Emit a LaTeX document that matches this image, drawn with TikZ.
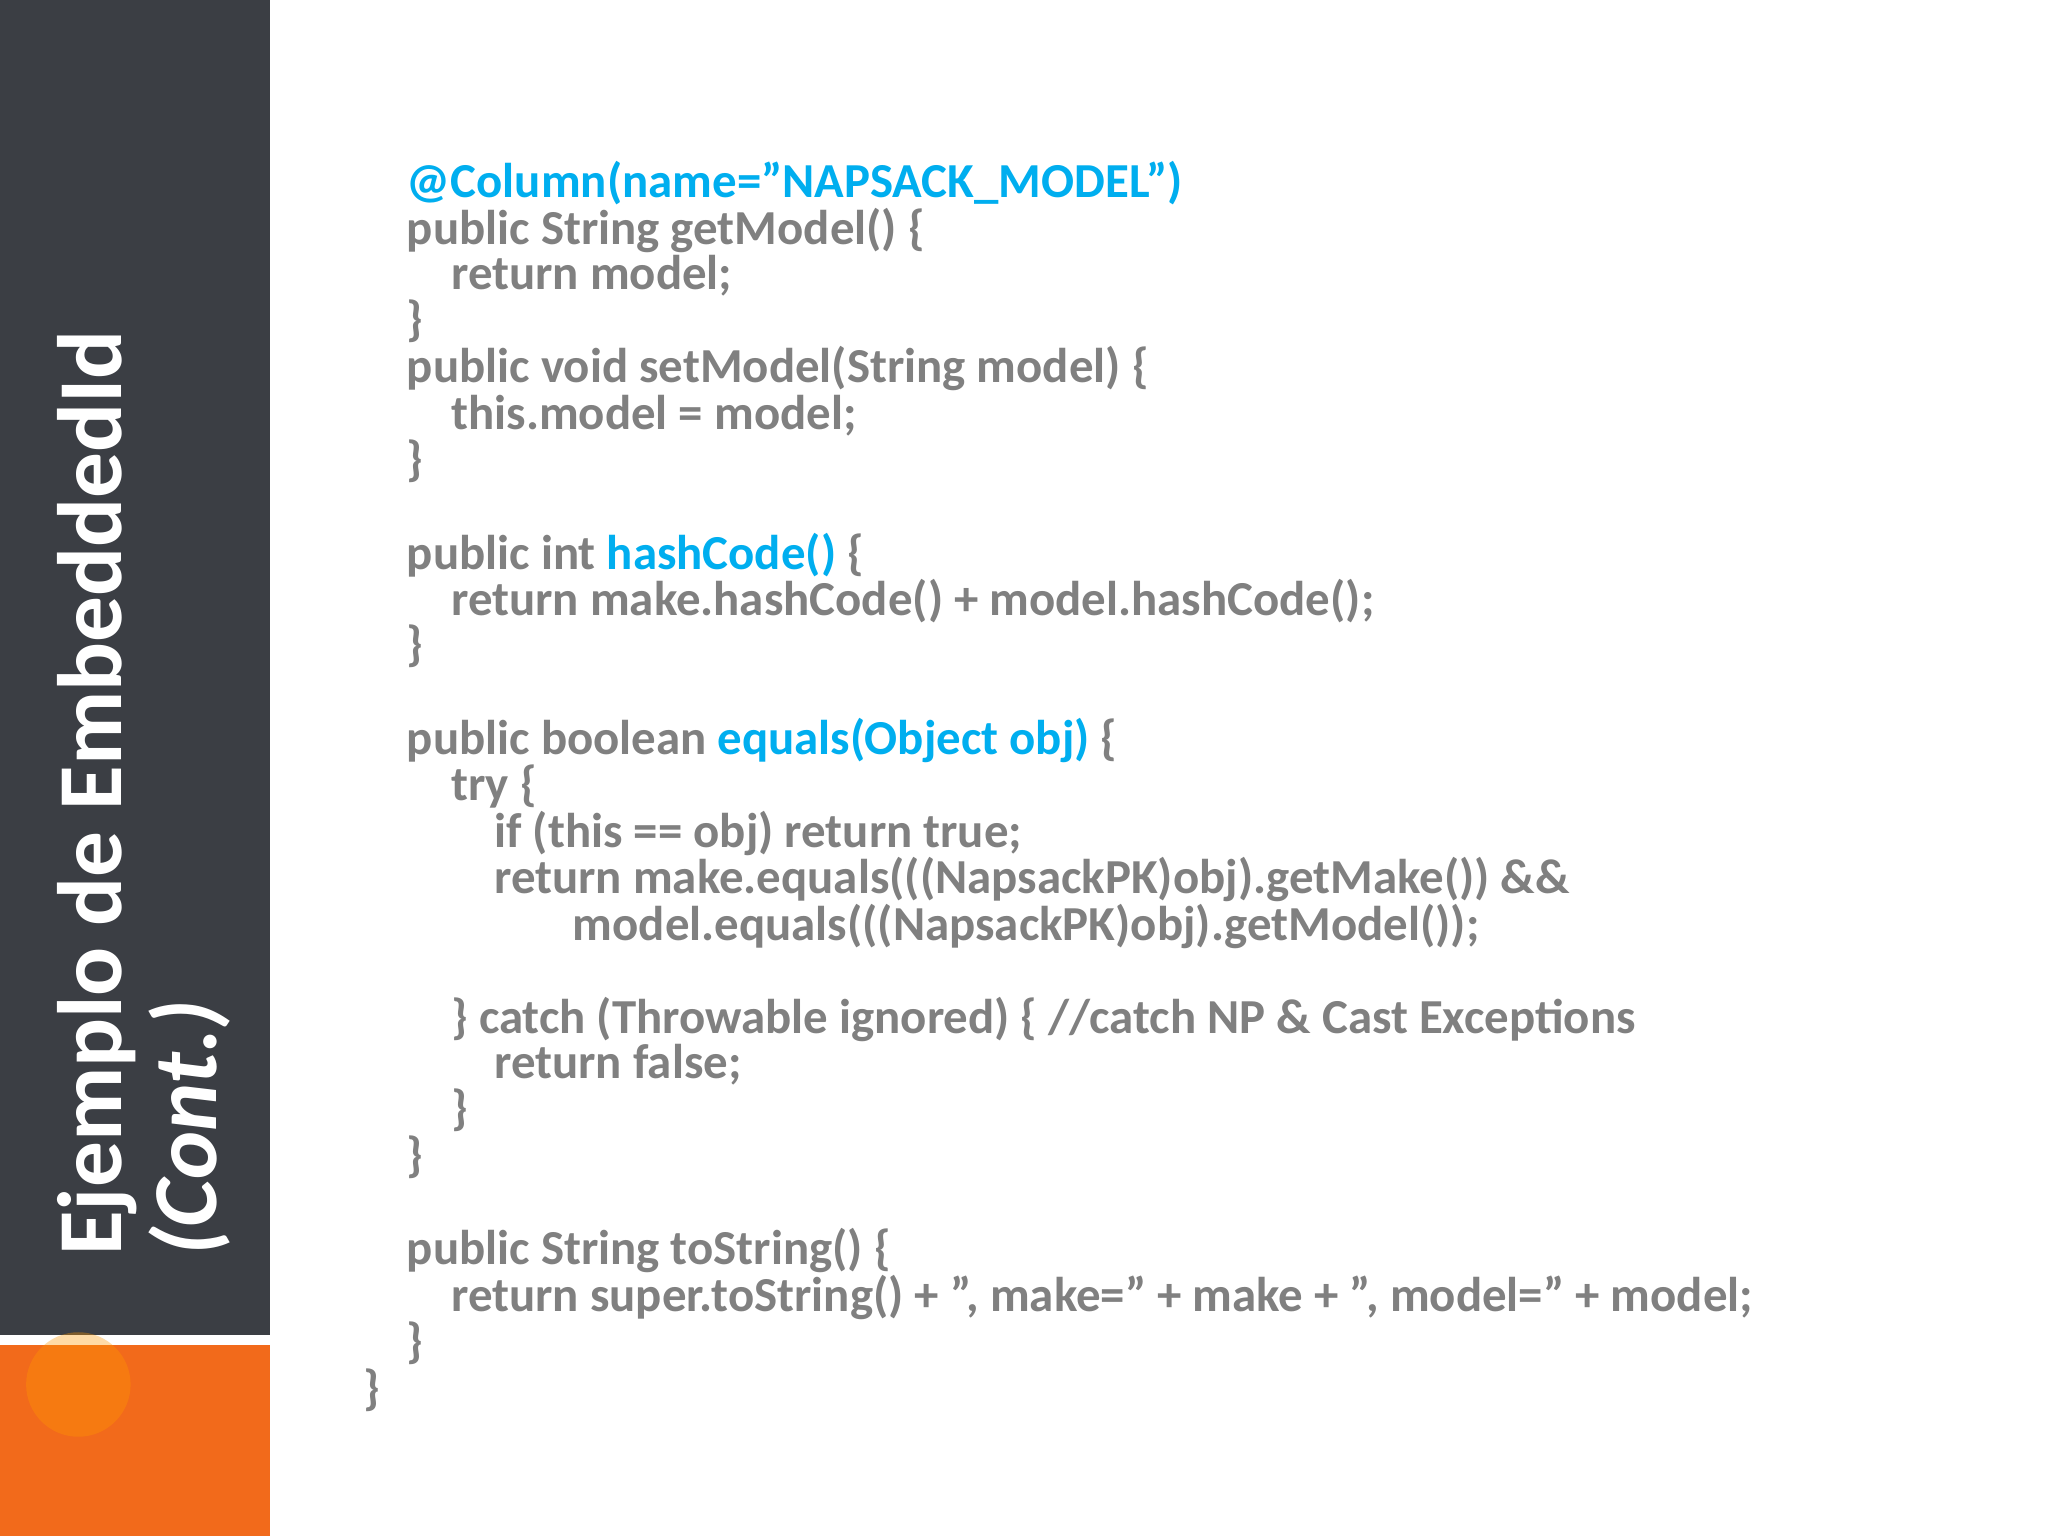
\documentclass[tikz,border=0pt]{standalone}
\usepackage{fontspec}
\setmainfont{Carlito}
\definecolor{codegray}{HTML}{808080}
\definecolor{codeblue}{HTML}{00AEEF}
\definecolor{darkbar}{HTML}{3B3E44}
\definecolor{orangebar}{HTML}{F26A1B}
\tikzset{code/.style={anchor=base west,inner sep=0pt,text=codegray,font=\bfseries\fontsize{13.9}{14}\selectfont},
title/.style={anchor=base west,inner sep=0pt,rotate=90,text=white,font=\bfseries\fontsize{26}{27}\selectfont}}
\newcommand{\bl}[1]{\textcolor{codeblue}{#1}}
\newcommand{\qq}{\symbol{34}}
\begin{document}
\begin{tikzpicture}[x=0.013061cm,y=-0.013061cm]
\useasboundingbox (0,0) rectangle (1568,1176);
\fill[white] (0,0) rectangle (1568,1176);
\fill[darkbar] (0,0) rectangle (207,1022);
\fill[orangebar] (0,1030) rectangle (207,1176);
\fill[orange!80!yellow,opacity=0.35] (60,1060) circle (40);
\node[title] (t1) at (93,962) {Ejemplo de EmbeddedId};
\node[title] (t2) at (166,962) {\itshape (Cont.)};
\node[code] (l1) at (311,151) {\bl{@Column(name=\qq NAPSACK\_MODEL\qq)}};
\node[code] (l2) at (311,187) {public String getModel() \{};
\node[code] (l3) at (345,222) {return model;};
\node[code] (l4) at (311,257) {\}};
\node[code] (l5) at (311,293) {public void setModel(String model) \{};
\node[code] (l6) at (345,329) {this.model = model;};
\node[code] (l7) at (311,364) {\}};
\node[code] (l8) at (311,436) {public int \bl{hashCode()} \{};
\node[code] (l9) at (345,471) {return make.hashCode() + model.hashCode();};
\node[code] (l10) at (311,506) {\}};
\node[code] (l11) at (311,578) {public boolean \bl{equals(Object obj)} \{};
\node[code] (l12) at (345,613) {try \{};
\node[code] (l13) at (378,649) {if (this == obj) return true;};
\node[code] (l14) at (378,684) {return make.equals(((NapsackPK)obj).getMake()) \&\&};
\node[code] (l15) at (438,720) {model.equals(((NapsackPK)obj).getModel());};
\node[code] (l16) at (345,791) {\} catch (Throwable ignored) \{ //catch NP \& Cast Exceptions};
\node[code] (l17) at (378,826) {return false;};
\node[code] (l18) at (345,861) {\}};
\node[code] (l19) at (311,897) {\}};
\node[code] (l20) at (311,968) {public String toString() \{};
\node[code] (l21) at (345,1004) {return super.toString() + \qq, make=\qq{} + make + \qq, model=\qq{} + model;};
\node[code] (l22) at (311,1039) {\}};
\node[code] (l23) at (278,1075) {\}};
\end{tikzpicture}
\end{document}
